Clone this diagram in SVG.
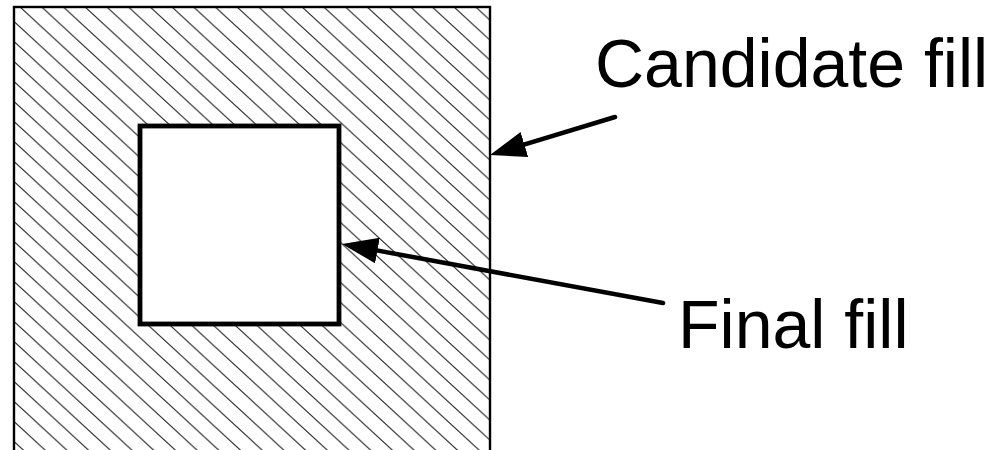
<svg xmlns="http://www.w3.org/2000/svg" width="1003" height="450" viewBox="0 0 1003 450">
  <style>
    .lbl { font-family: "Liberation Sans", Arial, Helvetica, sans-serif; font-size: 68px; fill: #000; }
    .conn { fill: none; stroke: #000; stroke-width: 4.5; stroke-linecap: round; }
  </style>
  <defs>
    <pattern id="hatch" patternUnits="userSpaceOnUse" x="20" y="7" width="21.7" height="20">
      <path d="M-2,-1.84 L23.7,21.84 M-23.7,-1.84 L2,21.84 M19.7,-1.84 L45.4,21.84" stroke="#2a2a2a" stroke-width="1.15" fill="none"/>
    </pattern>
    <marker id="arrow" markerUnits="userSpaceOnUse" markerWidth="36" markerHeight="26" refX="16" refY="13" orient="auto">
      <path d="M0,0 L36,13 L0,26 z" fill="#000"/>
    </marker>
  </defs>
  <g id="candidate-fill">
    <rect x="14" y="7" width="476" height="460" fill="url(#hatch)" stroke="#000" stroke-width="2.4"/>
  </g>
  <g id="final-fill">
    <rect x="140" y="126" width="199" height="198" fill="#fff" stroke="#000" stroke-width="4.8"/>
  </g>
  <g id="connectors">
    <path class="conn" d="M615,117 L509.1,149.2" marker-end="url(#arrow)"/>
    <path class="conn" d="M663,303 L361.7,247.6" marker-end="url(#arrow)"/>
  </g>
  <g id="label-candidate">
    <text class="lbl" x="595" y="87">Candidate fill</text>
  </g>
  <g id="label-final">
    <text class="lbl" x="678" y="348">Final fill</text>
  </g>
</svg>
